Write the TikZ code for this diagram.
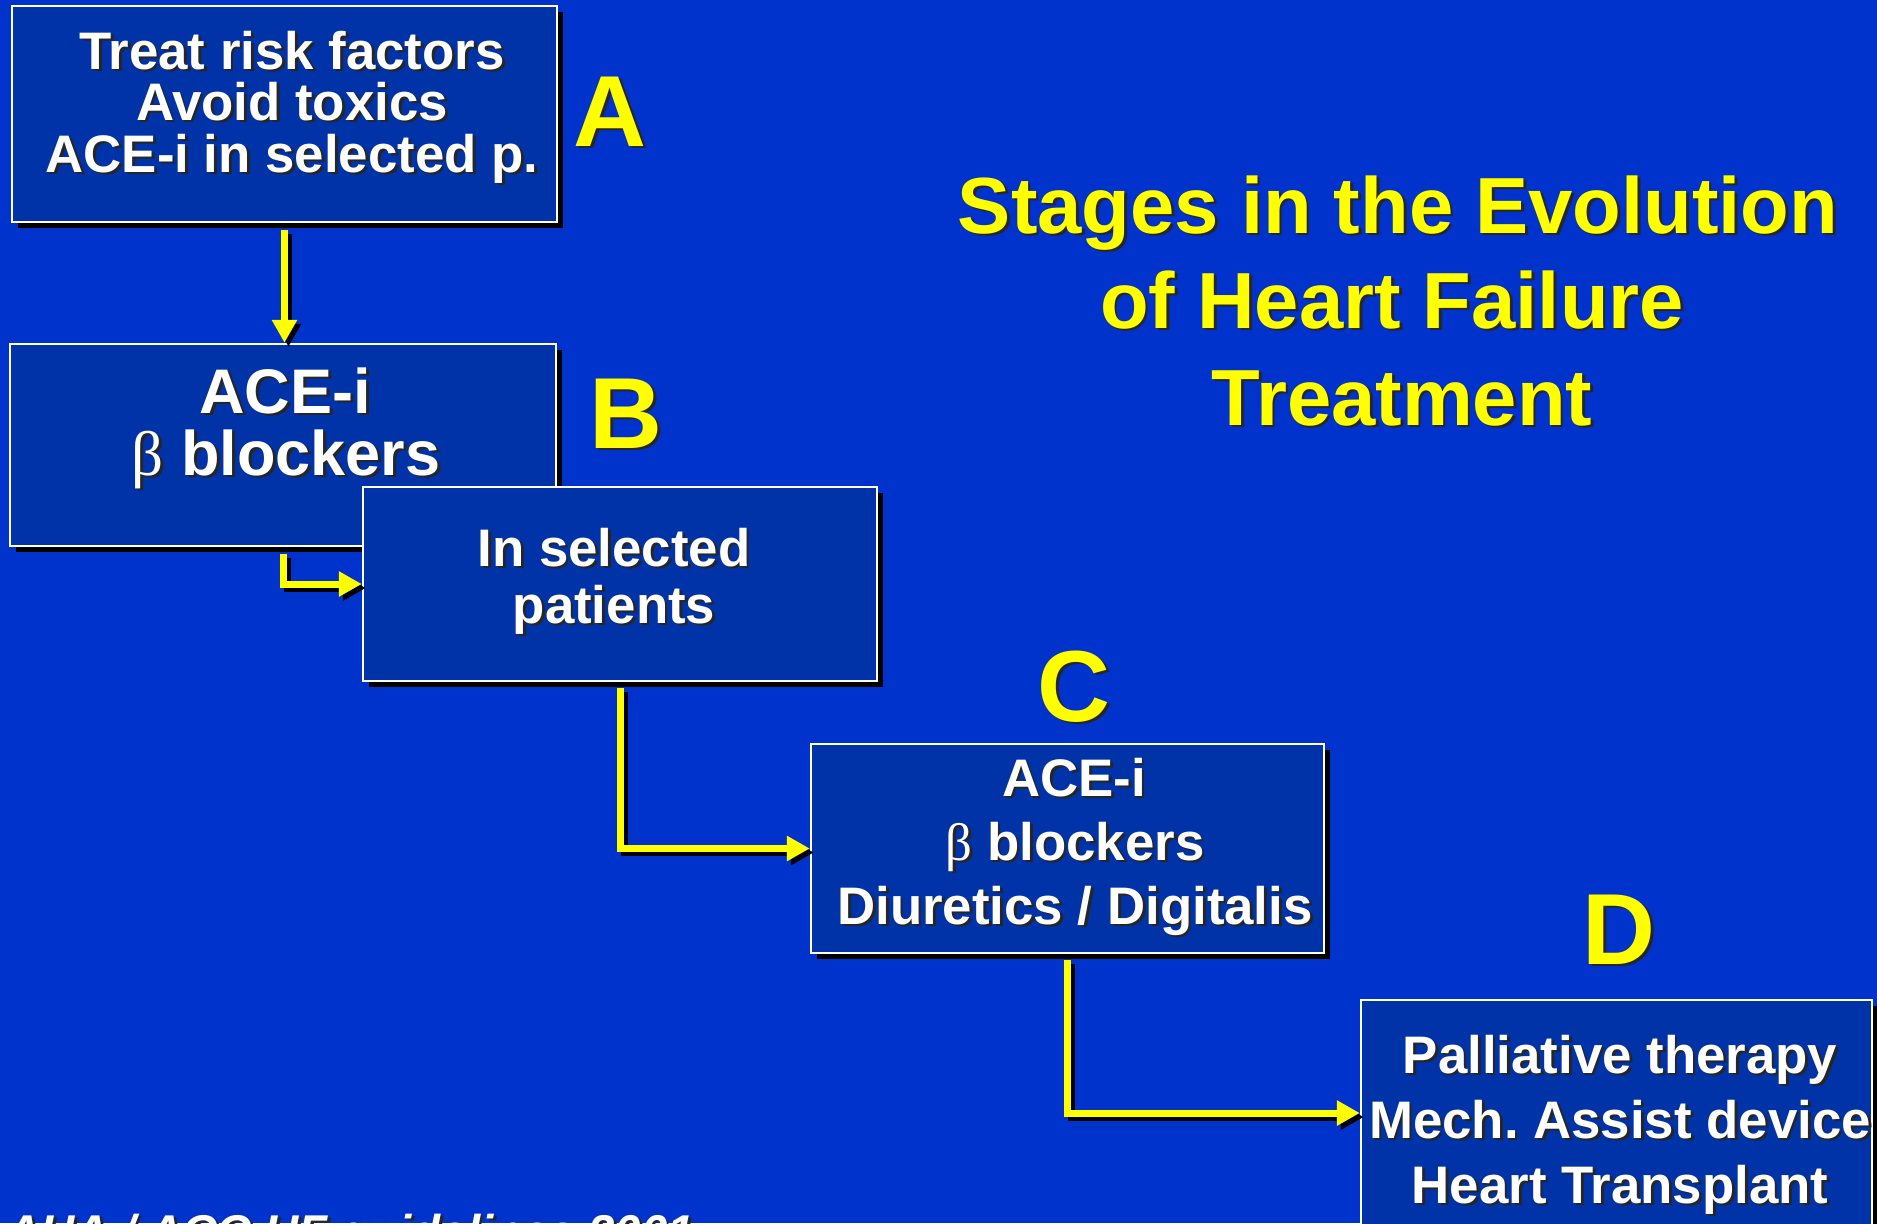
\documentclass[tikz,border=0pt]{standalone}
\usepackage{fontspec}
\setmainfont{Liberation Sans}
\newfontfamily\grk{Liberation Serif}
\usetikzlibrary{arrows.meta,shadows}
\definecolor{bg}{RGB}{0,51,204}
\definecolor{boxfill}{RGB}{0,51,168}
\definecolor{yel}{RGB}{255,255,0}
\frenchspacing
\newcommand\shd[1]{\leavevmode\rlap{\hspace{1.4pt}\raisebox{-1.4pt}{\textcolor{black!85}{#1}}}#1}
\newcommand\bet{{\grk\mdseries β}}
\begin{document}
\begin{tikzpicture}[x=0.5pt,y=-0.5pt,
  stagebox/.style={rectangle, draw=white, line width=1.2pt, fill=boxfill, inner sep=0pt,
    drop shadow={shadow xshift=3pt, shadow yshift=-3pt, fill=black, opacity=1}},
  boxtxt/.style={text=white, inner sep=0pt, anchor=base, font=\bfseries\fontsize{26.4}{30}\selectfont},
  bigtxt/.style={boxtxt, font=\bfseries\fontsize{31.5}{34}\selectfont},
  titletxt/.style={text=yel, inner sep=0pt, anchor=base, font=\bfseries\fontsize{39.8}{44}\selectfont},
  lettertxt/.style={text=yel, inner sep=0pt, anchor=base, font=\bfseries\fontsize{50.5}{54}\selectfont},
  sourcetxt/.style={text=white, inner sep=0pt, anchor=base west, font=\bfseries\itshape\fontsize{23.7}{26}\selectfont},
  arr/.style={draw=yel, line width=3.5pt, -{Triangle[length=11.5pt,width=12pt]}},
  arrsh/.style={draw=black, line width=3.5pt, -{Triangle[length=11.5pt,width=12pt]},
    transform canvas={xshift=2pt,yshift=-2pt}}
]
\useasboundingbox (0,0) rectangle (1877,1223);
\fill[bg] (0,0) rectangle (1877,1223);
\clip (0,0) rectangle (1877,1223);

% boxes
\node[stagebox, minimum width=272.5pt, minimum height=108pt] (A) at (284.5,114) {};
\node[stagebox, minimum width=273pt, minimum height=101pt] (B) at (283,445) {};
\node[stagebox, minimum width=257pt, minimum height=97pt] (S) at (620,584) {};
\node[stagebox, minimum width=256.5pt, minimum height=104.5pt] (C) at (1067.5,848.5) {};
\node[stagebox, minimum width=255.5pt, minimum height=113pt] (D) at (1616.5,1113) {};

% connectors
\draw[arrsh, shorten <=3.5pt] (A.south) -- (A.south |- B.north);
\draw[arr, shorten <=3.5pt] (A.south) -- (A.south |- B.north);
\draw[arrsh, shorten <=3.5pt] (B.south) |- (S.west);
\draw[arr, shorten <=3.5pt] (B.south) |- (S.west);
\draw[arrsh, shorten <=3pt] (S.south) |- (C.west);
\draw[arr, shorten <=3pt] (S.south) |- (C.west);
\draw[arrsh, shorten <=3pt] (C.south) |- (D.west);
\draw[arr, shorten <=3pt] (C.south) |- (D.west);

% box texts
\node[boxtxt] (a1) at (292,69) {\shd{Treat risk factors}};
\node[boxtxt] (a2) at (292,120) {\shd{Avoid toxics}};
\node[boxtxt] (a3) at (292,172) {\shd{ACE-i in selected p.}};

\node[bigtxt] (b1) at (285,413) {\shd{ACE-i}};
\node[bigtxt] (b2) at (286,475) {\shd{\bet\ blockers}};

\node[boxtxt] (s1) at (614,566) {\shd{In selected}};
\node[boxtxt] (s2) at (614,623) {\shd{patients}};

\node[boxtxt] (c1) at (1074,796) {\shd{ACE-i}};
\node[boxtxt] (c2) at (1075,860) {\shd{\bet\ blockers}};
\node[boxtxt] (c3) at (1075,924) {\shd{Diuretics / Digitalis}};

\node[boxtxt] (d1) at (1620,1073) {\shd{Palliative therapy}};
\node[boxtxt] (d2) at (1620,1138) {\shd{Mech. Assist device}};
\node[boxtxt] (d3) at (1620,1203) {\shd{Heart Transplant}};

% stage letters
\node[lettertxt] (LA) at (610,146) {\shd{A}};
\node[lettertxt] (LB) at (626,448) {\shd{B}};
\node[lettertxt] (LC) at (1074,721) {\shd{C}};
\node[lettertxt] (LD) at (1619,964) {\shd{D}};

% title
\node[titletxt] (t1) at (1398,233) {\shd{Stages in the Evolution}};
\node[titletxt] (t2) at (1392,328) {\shd{of Heart Failure}};
\node[titletxt] (t3) at (1402,425) {\shd{Treatment}};

% source
\node[sourcetxt] (src) at (6,1248) {\shd{AHA / ACC HF guidelines 2001}};
\end{tikzpicture}
\end{document}
